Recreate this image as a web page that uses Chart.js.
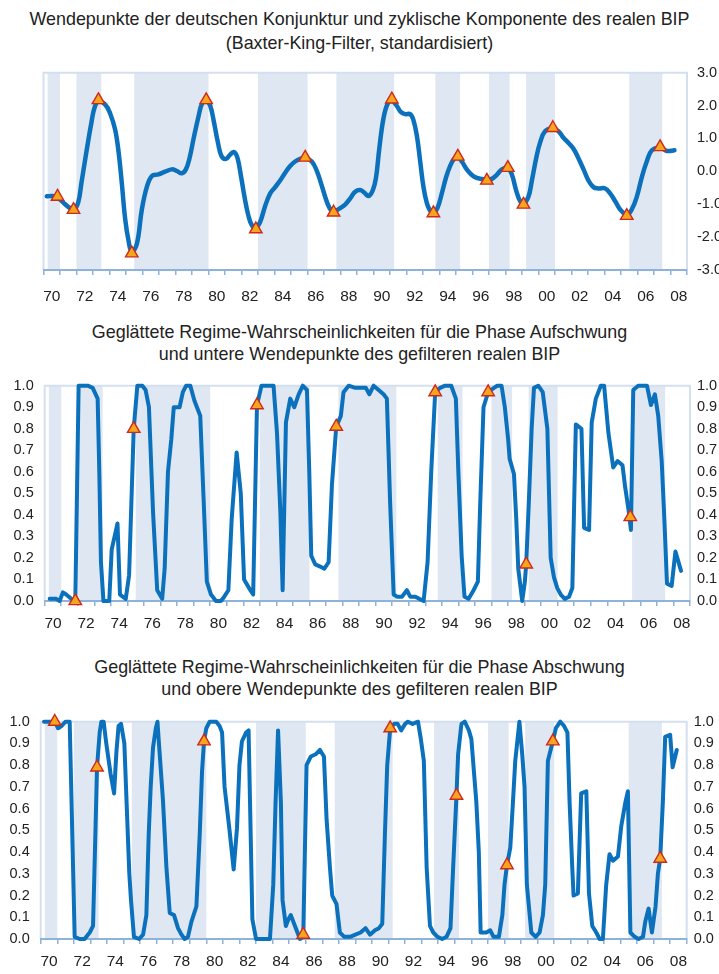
<!DOCTYPE html>
<html>
<head>
<meta charset="utf-8">
<title>Wendepunkte der deutschen Konjunktur</title>
<script src="https://cdn.jsdelivr.net/npm/chart.js@4.4.1/dist/chart.umd.min.js"></script>
<style>
    body { margin: 0; background: #fff; }
    #page { position: relative; width: 719px; height: 974px; overflow: hidden;
            font-family: "Liberation Sans", Arial, sans-serif; color: #222; }
    .title { position: absolute; left: 0; width: 719px; text-align: center; font-size: 17.9px; white-space: nowrap; }
    canvas { position: absolute; left: 0; }
</style>
</head>
<body>
<div id="page">
    <div class="title" style="top:7px; line-height:24px">Wendepunkte der deutschen Konjunktur und zyklische Komponente des realen BIP<br>(Baxter-King-Filter, standardisiert)</div>
    <canvas id="cycleChart" width="719" height="262" style="top:54px"></canvas>

    <div class="title" style="top:321px; line-height:22px">Geglättete Regime-Wahrscheinlichkeiten für die Phase Aufschwung<br>und untere Wendepunkte des gefilteren realen BIP</div>
    <canvas id="upChart" width="719" height="270" style="top:366px"></canvas>

    <div class="title" style="top:656px; line-height:22px">Geglättete Regime-Wahrscheinlichkeiten für die Phase Abschwung<br>und obere Wendepunkte des gefilteren realen BIP</div>
    <canvas id="downChart" width="719" height="272" style="top:702px"></canvas>
</div>

<script>
// Year axis: one tick per year, a label every second year
const labelYears = [1970, 1972, 1974, 1976, 1978, 1980, 1982, 1984, 1986, 1988,
                    1990, 1992, 1994, 1996, 1998, 2000, 2002, 2004, 2006, 2008];
const labelTexts = ['70', '72', '74', '76', '78', '80', '82', '84', '86', '88',
                    '90', '92', '94', '96', '98', '00', '02', '04', '06', '08'];

// Shaded upswing phases [start, end]
const upswingPhases = [
    [1970.25, 1971.0], [1972.0, 1973.5], [1975.5, 1980.0], [1983.0, 1986.0],
    [1987.75, 1991.25], [1993.75, 1995.25], [1997.0, 1998.25], [1999.25, 2001.0],
    [2005.5, 2007.5]
];

// Panel 1: cyclical component of real GDP [year, value]
const cycleSeries = [
    [1970.2, -0.76], [1970.55, -0.75], [1970.85, -0.8], [1971.2, -0.95], [1971.5, -1.08],
    [1971.82, -1.17], [1972.1, -0.95], [1972.3, -0.35], [1972.6, 0.59], [1972.9, 1.47],
    [1973.1, 1.95], [1973.33, 2.12], [1973.74, 2.03], [1974.04, 1.76], [1974.34, 1.27],
    [1974.55, 0.59], [1974.75, -0.38], [1974.95, -1.45], [1975.15, -2.1], [1975.35, -2.45],
    [1975.66, -2.2], [1975.96, -1.16], [1976.26, -0.48], [1976.57, -0.14], [1976.97, -0.09],
    [1977.37, -0.01], [1977.78, 0.06], [1978.08, 0.01], [1978.38, -0.06], [1978.63, 0.06],
    [1978.85, 0.4], [1979.09, 0.98], [1979.39, 1.66], [1979.6, 2.05], [1979.86, 2.14],
    [1980.1, 2.0], [1980.34, 1.47], [1980.57, 0.88], [1980.8, 0.45], [1981.07, 0.38],
    [1981.3, 0.5], [1981.55, 0.59], [1981.76, 0.4], [1981.98, -0.18], [1982.18, -0.77],
    [1982.42, -1.35], [1982.63, -1.64], [1982.87, -1.72], [1983.13, -1.54], [1983.43, -1.06],
    [1983.74, -0.67], [1984.04, -0.48], [1984.34, -0.28], [1984.65, -0.04], [1984.95, 0.16],
    [1985.25, 0.3], [1985.56, 0.38], [1985.86, 0.4], [1986.26, 0.3], [1986.57, 0.01],
    [1986.83, -0.38], [1987.07, -0.77], [1987.33, -1.11], [1987.58, -1.22], [1987.88, -1.15],
    [1988.28, -1.01], [1988.59, -0.82], [1988.89, -0.62], [1989.2, -0.57], [1989.45, -0.65],
    [1989.7, -0.75], [1989.96, -0.57], [1990.15, -0.2], [1990.35, 0.69], [1990.6, 1.6],
    [1990.85, 2.05], [1991.11, 2.15], [1991.4, 2.0], [1991.65, 1.81], [1991.92, 1.74],
    [1992.22, 1.74], [1992.42, 1.56], [1992.63, 1.08], [1992.83, 0.3], [1993.03, -0.48],
    [1993.23, -0.96], [1993.43, -1.2], [1993.63, -1.25], [1993.88, -1.11], [1994.14, -0.67],
    [1994.4, -0.18], [1994.64, 0.16], [1994.89, 0.38], [1995.11, 0.43], [1995.35, 0.3],
    [1995.65, 0.06], [1995.96, -0.11], [1996.26, -0.2], [1996.56, -0.23], [1996.87, -0.25],
    [1997.17, -0.23], [1997.47, -0.11], [1997.78, 0.06], [1998.14, 0.1], [1998.38, -0.09],
    [1998.64, -0.57], [1998.89, -0.91], [1999.09, -0.98], [1999.39, -0.77], [1999.6, -0.28],
    [1999.86, 0.4], [2000.1, 0.88], [2000.4, 1.22], [2000.87, 1.3], [2001.21, 1.22],
    [2001.5, 1.03], [2001.82, 0.86], [2002.12, 0.69], [2002.42, 0.4], [2002.73, 0.06],
    [2003.03, -0.28], [2003.33, -0.48], [2003.63, -0.52], [2004.04, -0.52], [2004.34, -0.67],
    [2004.65, -0.91], [2004.95, -1.16], [2005.35, -1.32], [2005.65, -1.16], [2005.96, -0.77],
    [2006.26, -0.18], [2006.56, 0.3], [2006.87, 0.64], [2007.37, 0.72], [2007.78, 0.62],
    [2008.24, 0.64]
];

const cycleTurns = [
    [1970.85, -0.77], [1971.82, -1.17], [1973.33, 2.17], [1975.35, -2.49], [1979.86, 2.17],
    [1982.87, -1.76], [1985.86, 0.42], [1987.58, -1.25], [1991.11, 2.19], [1993.63, -1.27],
    [1995.11, 0.45], [1996.87, -0.28], [1998.14, 0.11], [1999.09, -1.01], [2000.87, 1.32],
    [2005.35, -1.35], [2007.37, 0.74]
];

// Panel 2: smoothed probability of upswing regime
const upSeries = [
    [1970.3, 0.01], [1970.7, 0.01], [1970.9, 0.0], [1971.1, 0.04], [1971.3, 0.03],
    [1971.6, 0.01], [1971.85, 0.0], [1972.05, 1.0], [1972.3, 1.0], [1972.6, 1.0],
    [1972.9, 0.99], [1973.2, 0.94], [1973.3, 0.6], [1973.4, 0.18], [1973.55, 0.0],
    [1973.9, 0.0], [1974.05, 0.24], [1974.4, 0.36], [1974.55, 0.03], [1974.9, 0.01],
    [1975.1, 0.12], [1975.38, 0.8], [1975.6, 1.0], [1975.9, 1.0], [1976.1, 0.98],
    [1976.3, 0.9], [1976.55, 0.41], [1976.8, 0.05], [1977.1, 0.01], [1977.25, 0.15],
    [1977.45, 0.6], [1977.65, 0.75], [1977.8, 0.9], [1978.15, 0.9], [1978.35, 0.97],
    [1978.55, 1.0], [1978.8, 1.0], [1979.05, 0.93], [1979.4, 0.86], [1979.6, 0.48],
    [1979.8, 0.09], [1980.05, 0.03], [1980.35, 0.0], [1980.65, 0.0], [1980.85, 0.02],
    [1981.1, 0.05], [1981.3, 0.38], [1981.6, 0.69], [1981.85, 0.5], [1982.05, 0.1],
    [1982.35, 0.06], [1982.6, 0.03], [1982.83, 0.91], [1983.1, 1.0], [1983.83, 1.0],
    [1984.04, 0.78], [1984.24, 0.42], [1984.38, 0.05], [1984.58, 0.83], [1984.84, 0.94],
    [1985.08, 0.9], [1985.35, 0.96], [1985.6, 1.0], [1985.85, 0.98], [1985.99, 0.6],
    [1986.11, 0.21], [1986.35, 0.17], [1986.65, 0.16], [1986.9, 0.15], [1987.16, 0.18],
    [1987.36, 0.54], [1987.62, 0.81], [1987.9, 0.86], [1988.06, 0.97], [1988.37, 1.0],
    [1988.77, 0.99], [1989.17, 0.99], [1989.41, 0.99], [1989.62, 0.96], [1989.88, 1.0],
    [1990.18, 0.98], [1990.48, 0.96], [1990.68, 0.94], [1990.88, 0.45], [1991.09, 0.03],
    [1991.29, 0.02], [1991.59, 0.02], [1991.89, 0.05], [1992.09, 0.02], [1992.4, 0.02],
    [1992.64, 0.01], [1992.9, 0.0], [1993.14, 0.18], [1993.36, 0.6], [1993.6, 0.97],
    [1993.9, 0.99], [1994.2, 1.0], [1994.57, 1.0], [1994.85, 0.94], [1995.0, 0.6],
    [1995.2, 0.21], [1995.37, 0.02], [1995.62, 0.01], [1995.92, 0.05], [1996.18, 0.09],
    [1996.32, 0.45], [1996.52, 0.9], [1996.8, 0.97], [1997.15, 0.99], [1997.35, 1.0],
    [1997.61, 1.0], [1997.81, 0.9], [1998.01, 0.75], [1998.1, 0.66], [1998.36, 0.59],
    [1998.5, 0.38], [1998.62, 0.15], [1998.86, 0.0], [1999.02, 0.09], [1999.1, 0.17],
    [1999.27, 0.48], [1999.43, 0.8], [1999.57, 0.99], [1999.83, 1.0], [2000.1, 0.97],
    [2000.38, 0.8], [2000.58, 0.2], [2000.78, 0.11], [2000.98, 0.06], [2001.19, 0.03],
    [2001.43, 0.01], [2001.69, 0.02], [2001.89, 0.06], [2002.1, 0.82], [2002.44, 0.8],
    [2002.6, 0.34], [2002.9, 0.33], [2003.06, 0.83], [2003.31, 0.94], [2003.61, 1.0],
    [2003.81, 1.0], [2004.07, 0.78], [2004.36, 0.62], [2004.62, 0.65], [2004.92, 0.63],
    [2005.08, 0.53], [2005.29, 0.42], [2005.43, 0.33], [2005.57, 0.98], [2005.87, 1.0],
    [2006.13, 1.0], [2006.4, 1.0], [2006.64, 0.91], [2006.88, 0.96], [2007.08, 0.86],
    [2007.29, 0.65], [2007.45, 0.38], [2007.61, 0.08], [2007.89, 0.07], [2008.12, 0.23],
    [2008.46, 0.14]
];

const upTurns = [
    [1971.85, 0.0], [1975.38, 0.8], [1982.83, 0.91], [1987.62, 0.81],
    [1993.6, 0.97], [1996.8, 0.97], [1999.1, 0.17], [2005.39, 0.39]
];

// Panel 3: smoothed probability of downswing regime
const downSeries = [
    [1970.2, 1.0], [1970.6, 1.0], [1970.85, 1.0], [1971.05, 0.97], [1971.25, 0.98],
    [1971.5, 1.0], [1971.75, 1.0], [1972.05, 0.01], [1972.35, 0.0], [1972.65, 0.0],
    [1972.96, 0.03], [1973.16, 0.06], [1973.3, 0.48], [1973.4, 0.79], [1973.56, 0.95],
    [1973.66, 1.0], [1973.8, 1.0], [1973.96, 0.9], [1974.22, 0.76], [1974.43, 0.67],
    [1974.57, 0.86], [1974.7, 0.98], [1974.85, 0.99], [1975.05, 0.9], [1975.2, 0.6],
    [1975.35, 0.3], [1975.45, 0.18], [1975.63, 0.01], [1975.94, 0.0], [1976.18, 0.02],
    [1976.38, 0.11], [1976.52, 0.48], [1976.64, 0.7], [1976.78, 0.88], [1976.95, 0.97],
    [1977.05, 1.0], [1977.12, 0.92], [1977.38, 0.64], [1977.59, 0.33], [1977.79, 0.12],
    [1978.05, 0.11], [1978.29, 0.05], [1978.5, 0.02], [1978.69, 0.0], [1978.89, 0.01],
    [1979.1, 0.08], [1979.4, 0.15], [1979.6, 0.48], [1979.74, 0.77], [1979.86, 0.91],
    [1980.0, 0.97], [1980.2, 1.0], [1980.6, 1.0], [1980.8, 0.98], [1980.95, 0.95],
    [1981.1, 0.7], [1981.4, 0.5], [1981.65, 0.32], [1981.85, 0.51], [1982.0, 0.8],
    [1982.15, 0.91], [1982.4, 0.95], [1982.55, 0.96], [1982.78, 0.09], [1983.0, 0.0],
    [1983.84, 0.0], [1984.04, 0.25], [1984.18, 0.63], [1984.33, 0.96], [1984.5, 0.63],
    [1984.6, 0.18], [1984.8, 0.06], [1984.95, 0.09], [1985.1, 0.11], [1985.35, 0.06],
    [1985.65, 0.0], [1985.85, 0.01], [1986.05, 0.8], [1986.31, 0.84], [1986.6, 0.85],
    [1986.86, 0.87], [1987.1, 0.84], [1987.26, 0.55], [1987.46, 0.33], [1987.6, 0.2],
    [1987.86, 0.16], [1988.06, 0.03], [1988.33, 0.01], [1988.67, 0.01], [1989.0, 0.02],
    [1989.31, 0.03], [1989.61, 0.05], [1989.88, 0.02], [1990.18, 0.04], [1990.42, 0.05],
    [1990.62, 0.07], [1990.78, 0.48], [1990.92, 0.8], [1991.1, 0.97], [1991.34, 0.99],
    [1991.55, 0.99], [1991.76, 0.96], [1992.0, 0.99], [1992.17, 1.0], [1992.45, 0.99],
    [1992.78, 1.0], [1992.95, 0.92], [1993.13, 0.82], [1993.3, 0.33], [1993.5, 0.06],
    [1993.7, 0.03], [1993.96, 0.01], [1994.24, 0.0], [1994.5, 0.01], [1994.74, 0.05],
    [1994.9, 0.33], [1995.1, 0.66], [1995.2, 0.85], [1995.4, 0.99], [1995.6, 1.0],
    [1995.85, 0.96], [1996.0, 0.92], [1996.3, 0.63], [1996.45, 0.4], [1996.56, 0.03],
    [1996.9, 0.03], [1997.14, 0.04], [1997.34, 0.01], [1997.66, 0.01], [1997.87, 0.11],
    [1998.0, 0.25], [1998.15, 0.34], [1998.35, 0.42], [1998.51, 0.63], [1998.65, 0.82],
    [1998.9, 1.0], [1999.07, 0.85], [1999.21, 0.7], [1999.35, 0.25], [1999.62, 0.03],
    [1999.88, 0.01], [2000.12, 0.03], [2000.32, 0.11], [2000.46, 0.25], [2000.62, 0.82],
    [2000.92, 0.91], [2001.1, 0.97], [2001.37, 1.0], [2001.6, 0.98], [2001.8, 0.95],
    [2001.93, 0.63], [2002.09, 0.33], [2002.17, 0.2], [2002.43, 0.21], [2002.63, 0.67],
    [2002.94, 0.68], [2003.1, 0.21], [2003.3, 0.06], [2003.54, 0.03], [2003.74, 0.0],
    [2003.94, 0.0], [2004.14, 0.25], [2004.34, 0.39], [2004.55, 0.36], [2004.85, 0.38],
    [2005.05, 0.52], [2005.3, 0.63], [2005.45, 0.68], [2005.6, 0.03], [2005.86, 0.01],
    [2006.1, 0.0], [2006.36, 0.01], [2006.5, 0.08], [2006.7, 0.14], [2006.9, 0.03],
    [2007.12, 0.15], [2007.26, 0.3], [2007.4, 0.37], [2007.56, 0.63], [2007.7, 0.93],
    [2008.0, 0.94], [2008.15, 0.79], [2008.4, 0.87]
];

const downTurns = [
    [1970.85, 1.0], [1973.4, 0.79], [1979.86, 0.91], [1985.85, 0.02], [1991.1, 0.97],
    [1995.1, 0.66], [1998.15, 0.34], [2000.92, 0.91], [2007.4, 0.37]
];

const LINE_BLUE = '#0b71bd';
const AXIS_BLUE = '#8fb2da';
const BAND_BLUE = '#dfe7f3';
const TEXT = '#222';

Chart.defaults.font.family = '"Liberation Sans", Arial, sans-serif';
Chart.defaults.color = TEXT;

// Draw the shaded phases and the thin frame before the axes are painted
const phaseBands = {
    id: 'phaseBands',
    beforeDraw(chart) {
        const ctx = chart.ctx;
        const a = chart.chartArea;
        const x = chart.scales.x;
        ctx.save();
        ctx.fillStyle = BAND_BLUE;
        upswingPhases.forEach(function(p) {
            const x0 = x.getPixelForValue(p[0]);
            const x1 = x.getPixelForValue(p[1]);
            ctx.fillRect(x0, a.top, x1 - x0, a.bottom - a.top);
        });
        ctx.strokeStyle = '#d4e0f0';
        ctx.lineWidth = 2;
        ctx.beginPath();
        ctx.moveTo(a.left, a.bottom);
        ctx.lineTo(a.left, a.top);
        ctx.lineTo(a.right, a.top);
        ctx.lineTo(a.right, a.bottom);
        ctx.stroke();
        ctx.restore();
    }
};

function toPoints(series) {
    return series.map(function(p) { return { x: p[0], y: p[1] }; });
}

function yearAxis(height, padding) {
    const tickYears = [];
    for (let y = 1970; y <= 2009; y++) tickYears.push(y);
    return {
        type: 'linear',
        min: 1970,
        max: 2009,
        afterBuildTicks: function(scale) {
            scale.ticks = tickYears.map(function(v) { return { value: v }; });
        },
        afterFit: function(scale) { scale.height = height; },
        ticks: {
            autoSkip: false,
            maxRotation: 0,
            minRotation: 0,
            labelOffset: 8.3,
            padding: padding,
            font: { size: 15.5 },
            color: TEXT,
            callback: function(value) {
                const i = labelYears.indexOf(value);
                return i >= 0 ? labelTexts[i] : '';
            }
        },
        grid: { drawOnChartArea: false, drawTicks: true, tickLength: 5, color: AXIS_BLUE, lineWidth: 1.5 },
        border: { color: AXIS_BLUE, width: 2 }
    };
}

function valueAxis(position, min, max, step, width, padding) {
    return {
        type: 'linear',
        position: position,
        min: min,
        max: max,
        afterFit: function(scale) { scale.width = width; },
        ticks: {
            stepSize: step,
            padding: padding,
            font: { size: 14.5 },
            color: TEXT,
            callback: function(v) { return Number(v).toFixed(1); }
        },
        grid: { display: false, drawTicks: false },
        border: { display: false }
    };
}

function buildChart(id, series, turns, lineWidth, tension, scales, padding) {
    const ctx = document.getElementById(id).getContext('2d');
    return new Chart(ctx, {
        type: 'line',
        data: {
            datasets: [{
                data: toPoints(turns),
                showLine: false,
                pointStyle: 'triangle',
                pointRadius: 7.2,
                backgroundColor: '#f7a51c',
                borderColor: '#cc2a1e',
                borderWidth: 1.4,
                clip: false,
                order: 0
            }, {
                data: toPoints(series),
                borderColor: LINE_BLUE,
                borderWidth: lineWidth,
                borderJoinStyle: 'round',
                borderCapStyle: 'round',
                pointRadius: 0,
                tension: tension,
                clip: false,
                order: 1
            }]
        },
        options: {
            responsive: false,
            animation: false,
            layout: { padding: padding },
            plugins: {
                legend: { display: false },
                tooltip: { enabled: false }
            },
            scales: scales
        },
        plugins: [phaseBands]
    });
}

buildChart('cycleChart', cycleSeries, cycleTurns, 4.5, 0.4, {
    x: yearAxis(46, 12),
    y: valueAxis('right', -3, 3, 1, 32, 10)
}, { top: 10, left: 43.5, right: 0, bottom: 0 });

buildChart('upChart', upSeries, upTurns, 4, 0, {
    x: yearAxis(35, 8),
    y: valueAxis('left', 0, 1, 0.1, 44.7, 11),
    y2: valueAxis('right', 0, 1, 0.1, 29, 7)
}, { top: 12, left: 0, right: 0, bottom: 0 });

buildChart('downChart', downSeries, downTurns, 4, 0, {
    x: yearAxis(35, 8),
    y: valueAxis('left', 0, 1, 0.1, 40.7, 11),
    y2: valueAxis('right', 0, 1, 0.1, 32.3, 7)
}, { top: 12, left: 0, right: 0, bottom: 0 });
</script>
</body>
</html>
